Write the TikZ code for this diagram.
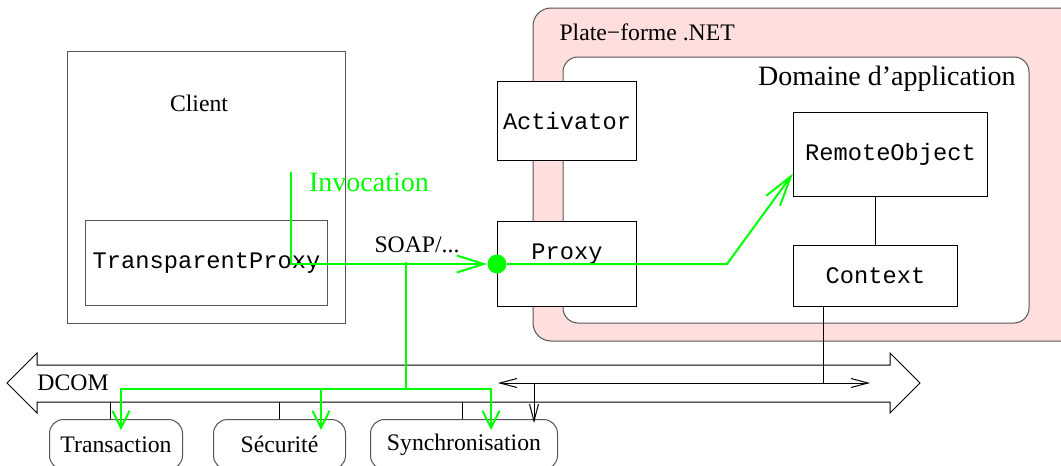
\documentclass[tikz,border=0pt]{standalone}
\usepackage{fontspec}
\setmainfont{Liberation Serif}
\setmonofont{Liberation Mono}
\usepackage{xcolor}
\usetikzlibrary{positioning}
\usetikzlibrary{arrows.meta}
\definecolor{vert}{RGB}{0,255,0}
\definecolor{rose}{RGB}{255,222,222}
\definecolor{bord}{RGB}{85,85,85}

\begin{document}
\begin{tikzpicture}[x=1pt, y=-1pt, line width=1pt,
	txt/.style = {inner sep=0pt, font=\fontsize{23.7}{28}\selectfont},
	obj/.style = {draw, fill=white, rectangle, inner sep=0pt, anchor=north west, font=\ttfamily\fontsize{23.7}{28}\selectfont},
	serv/.style = {draw=bord, fill=white, rectangle, rounded corners=14pt, inner sep=0pt, anchor=north west, minimum height=50pt, font=\fontsize{23.7}{28}\selectfont},
	msg/.style = {draw=vert, line width=2pt},
	pointe/.style = {-{Straight Barb[length=#1,width=17pt]}},
	pointe/.default = 17pt]
		\useasboundingbox (0,0) rectangle (1061,466);
		\draw[draw=bord, fill=rose, rounded corners=18pt] (533,8) rectangle (1090,341);
		\draw[draw=bord, fill=white, rounded corners=15pt] (563,57) rectangle (1029,323);
		\node[txt, anchor=west] (plat) at (559,32) {Plate−forme .NET};
		\node[txt, anchor=east, font=\fontsize{28}{32}\selectfont] (dom) at (1016,79) {Domaine d’application};
		\draw[fill=white] (37,365) -- (890,365) -- (890,353) -- (920,383) -- (890,413) -- (890,402)
			-- (37,402) -- (37,413) -- (7,383) -- (37,353) -- cycle;
		\coordinate (dcomb) at (37,402);
		\coordinate (busl) at (498,383);
		\coordinate (busr) at (870,383);
		\node[txt, anchor=west] (dcom) at (37,383) {DCOM};
		\node[obj, draw=bord, minimum width=278pt, minimum height=272pt] (client) at (67,51) {};
		\node[txt] (clt) at (199,103) {Client};
		\node[obj, draw=bord, minimum width=242pt, minimum height=85pt] (tp) at (85,220) {TransparentProxy};
		\node[obj, minimum width=139pt, minimum height=79pt] (act) at (497,81) {Activator};
		\node[obj, minimum width=139pt, minimum height=85pt, text height=15pt, text depth=25pt, below=60pt of act] (prx) {Proxy};
		\node[obj, minimum width=194pt, minimum height=84pt] (ro) at (793,112) {RemoteObject};
		\node[obj, minimum width=164pt, minimum height=61pt, below=48pt of ro.south west, anchor=north west] (ctx) {Context};
		\node[serv, minimum width=133pt] (trans) at (49,419) {Transaction};
		\node[serv, minimum width=132pt] (secu) at (213,419) {Sécurité};
		\node[serv, minimum width=187pt] (sync) at (370,419) {Synchronisation};
		\draw[-] (ctx.north) -- (ctx.north |- ro.south);
		\draw[-] ([xshift=30pt]ctx.south west) -- ([xshift=30pt]ctx.south west |- busl);
		\draw[{Straight Barb[length=17pt,width=9pt]}-{Straight Barb[length=17pt,width=9pt]}] (busl) -- (busr);
		\draw[-{Straight Barb[length=17pt,width=9pt]}] ([xshift=-24pt]sync.north east |- busl) -- ([xshift=-24pt,yshift=-4pt]sync.north east);
		\draw[-] ([xshift=-6pt]trans.north) -- ([xshift=-6pt]trans.north |- dcomb);
		\draw[-] (secu.north) -- (secu.north |- dcomb);
		\draw[-] ([xshift=-2pt]sync.north) -- ([xshift=-2pt]sync.north |- dcomb);
		\node[txt] (soap) at (417,245) {SOAP/...};
		\node[txt, text=vert, font=\fontsize{28}{32}\selectfont] (inv) at (369,182) {Invocation};
		\node[circle, fill=vert, minimum size=19pt, inner sep=0pt] (dot) at (prx.west) {};
		\coordinate (invtop) at (291,172);
		\coordinate (split) at (406,262);
		\coordinate (bar) at (406,389);
		\draw[msg, pointe=27pt] (invtop) |- (dot);
		\draw[msg, pointe=30pt] (dot) -- ++(230,0) -- ([yshift=-19pt]ro.west);
		\draw[msg] (split) -- (bar);
		\draw[msg, pointe] (bar) -| ([xshift=72pt,yshift=-11pt]trans.north west);
		\draw[msg, pointe] (bar) -| ([xshift=108pt,yshift=-11pt]secu.north west);
		\draw[msg, pointe] (bar) -| ([xshift=121pt,yshift=-11pt]sync.north west);
	\end{tikzpicture}
\end{document}
